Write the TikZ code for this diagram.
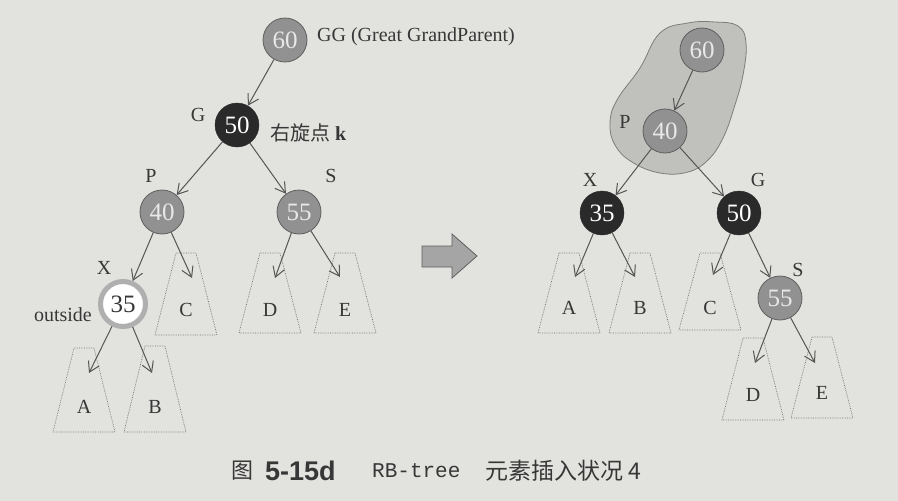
\documentclass[tikz,border=0pt]{standalone}
\usepackage{fontspec}
\setmainfont{Liberation Serif}
\newfontfamily\cjk{Noto Sans CJK SC}
\newfontfamily\capsans{Liberation Sans}
\newfontfamily\capmono{Liberation Mono}
\usetikzlibrary{arrows.meta}
\definecolor{bgc}{RGB}{226,226,223}
\definecolor{txt}{RGB}{55,55,55}
\definecolor{ndgray}{RGB}{145,145,145}
\definecolor{ndedge}{RGB}{95,95,95}
\definecolor{ndtext}{RGB}{232,232,232}
\definecolor{nddark}{RGB}{42,42,42}
\definecolor{ringc}{RGB}{175,175,175}
\definecolor{edgec}{RGB}{85,85,85}
\definecolor{trapc}{RGB}{115,115,115}
\definecolor{blobfill}{RGB}{192,192,189}
\definecolor{blobedge}{RGB}{125,125,125}
\definecolor{bigarrow}{RGB}{165,165,165}
\newcommand{\mytrap}[6]{%
  \draw[trapl] ({#1-10},#2) -- ({#1+10},#2) -- ({#1+31},#3) -- ({#1-31},#3) -- cycle;
  \node[lbl] (#4) at (#1,#6) {#5};}
\begin{document}
\begin{tikzpicture}[x=1pt,y=-1pt,
  nd/.style={circle, minimum size=44pt, inner sep=0pt, font=\fontsize{25}{25}\selectfont},
  graynd/.style={nd, fill=ndgray, draw=ndedge, line width=0.8pt, text=ndtext},
  darknd/.style={nd, fill=nddark, draw=nddark, text=white},
  ringnd/.style={nd, minimum size=45pt, draw=ringc, line width=5pt, fill=white, text=txt},
  edge/.style={draw=edgec, line width=1pt, -{Straight Barb[length=10pt,width=12pt]}},
  trapl/.style={draw=trapc, densely dotted, line width=0.7pt},
  lbl/.style={text=txt, font=\fontsize{20}{20}\selectfont, inner sep=0pt},
]
\fill[bgc] (0,0) rectangle (898,501);
\useasboundingbox (0,0) rectangle (898,501);

% ---------- left tree ----------
\node[graynd] (L60) at (285,40) {60};
\node[darknd] (L50) at (237,125) {50};
\node[graynd] (L40) at (162,212) {40};
\node[graynd] (L55) at (299,212) {55};
\node[ringnd] (L35) at (123,304) {35};

\node[lbl, anchor=west] (lGG) at (317,37) {GG (Great GrandParent)};
\node[lbl] (lG) at (198,115) {G};
\node[lbl, anchor=west] (lk) at (270,133) {{\cjk 右旋点} \textbf{k}};
\node[lbl] (lP) at (151,176) {P};
\node[lbl] (lS) at (331,176) {S};
\node[lbl] (lX) at (104,268) {X};
\node[lbl, anchor=east] (lout) at (92,315) {outside};

\mytrap{84}{348}{432}{LA}{A}{407}
\mytrap{155}{346}{432}{LB}{B}{407}
\mytrap{186}{253}{335}{LC}{C}{310}
\mytrap{270}{253}{333}{LD}{D}{310}
\mytrap{345}{253}{333}{LE}{E}{310}

\coordinate (LtA) at (89,373);
\coordinate (LtB) at (152,373);
\coordinate (LtC) at (192,278);
\coordinate (LtD) at (275,278);
\coordinate (LtE) at (340,277);

\draw[edge] (L60) -- (L50);
\draw[edge] (L50) -- (L40);
\draw[edge] (L50) -- (L55);
\draw[edge] (L40) -- (L35);
\draw[edge] (L40) -- (LtC);
\draw[edge] (L55) -- (LtD);
\draw[edge] (L55) -- (LtE);
\draw[edge] (L35) -- (LtA);
\draw[edge] (L35) -- (LtB);

% ---------- big arrow ----------
\draw[fill=bigarrow, draw=ndedge, line width=0.8pt]
  (422,246) -- (452,246) -- (452,234) -- (477,256) -- (452,278) -- (452,267) -- (422,267) -- cycle;

% ---------- right tree ----------
\draw[fill=blobfill, draw=blobedge, line width=0.8pt] plot[smooth cycle, tension=0.7] coordinates {
  (660,33) (640,68) (617,100) (610,123) (615,145) (632,162) (660,173) (688,172) (708,160)
  (723,138) (734,108) (743,75) (746,43) (738,26) (715,22) (688,23)};

\node[graynd] (R60) at (702,50) {60};
\node[graynd] (R40) at (665,131) {40};
\node[darknd] (R35) at (602,213) {35};
\node[darknd] (R50) at (739,213) {50};
\node[graynd] (R55) at (780,298) {55};

\node[lbl] (rP) at (625,122) {P};
\node[lbl] (rX) at (590,180) {X};
\node[lbl] (rG) at (758,180) {G};
\node[lbl] (rS) at (798,270) {S};

\mytrap{569}{253}{333}{RA}{A}{308}
\mytrap{640}{253}{333}{RB}{B}{308}
\mytrap{710}{253}{330}{RC}{C}{308}
\mytrap{753}{338}{420}{RD}{D}{395}
\mytrap{822}{337}{418}{RE}{E}{393}

\coordinate (RtA) at (575,277);
\coordinate (RtB) at (635,277);
\coordinate (RtC) at (713,275);
\coordinate (RtD) at (755,363);
\coordinate (RtE) at (815,363);

\draw[edge] (R60) -- (R40);
\draw[edge] (R40) -- (R35);
\draw[edge] (R40) -- (R50);
\draw[edge] (R50) -- (R55);
\draw[edge] (R35) -- (RtA);
\draw[edge] (R35) -- (RtB);
\draw[edge] (R50) -- (RtC);
\draw[edge] (R55) -- (RtD);
\draw[edge] (R55) -- (RtE);

% ---------- caption ----------
\node[text=txt, anchor=west, inner sep=0pt, font=\cjk\fontsize{22}{22}\selectfont] (cap1) at (231,471) {图};
\node[text=txt, anchor=west, inner sep=0pt, font=\capsans\bfseries\fontsize{27}{27}\selectfont] (cap2) at (265,471) {5-15d};
\node[text=txt, anchor=west, inner sep=0pt, font=\capmono\fontsize{21}{21}\selectfont] (cap3) at (372,471) {RB-tree};
\node[text=txt, anchor=west, inner sep=0pt, font=\cjk\fontsize{23}{23}\selectfont] (cap4) at (485,471) {元素插入状况\ 4};
\end{tikzpicture}
\end{document}
